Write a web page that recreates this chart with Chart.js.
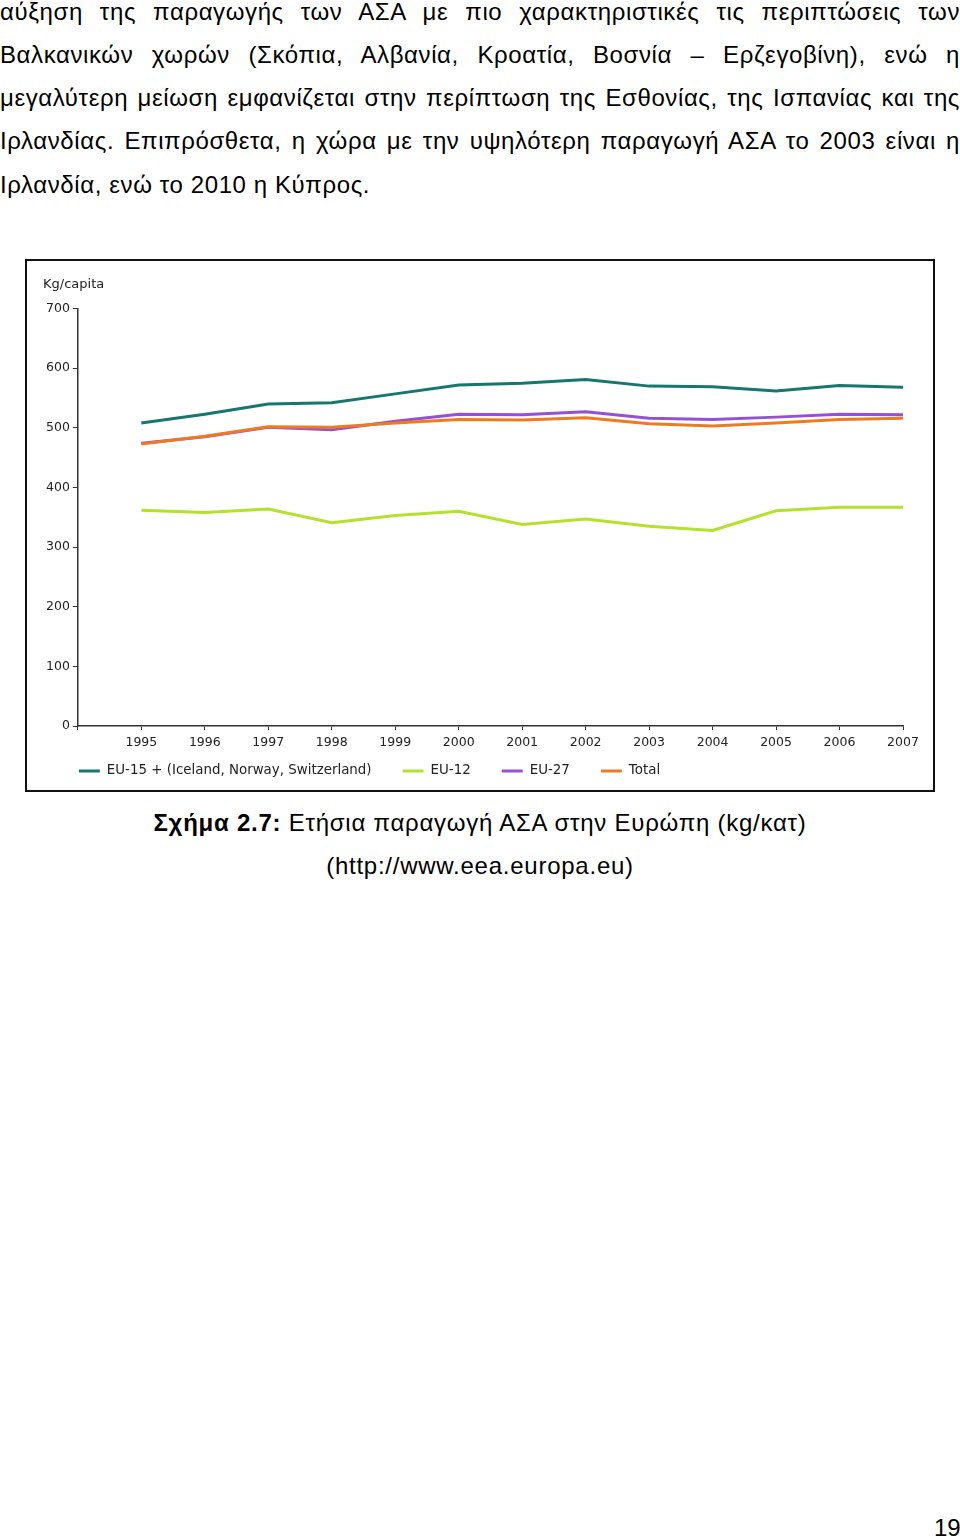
<!DOCTYPE html>
<html>
<head>
<meta charset="utf-8">
<script src="https://cdn.jsdelivr.net/npm/chart.js@4"></script>
<style>
    body { margin: 0; width: 960px; height: 1538px; background: #fff; position: relative; overflow: hidden; font-family: "Liberation Sans", Arial, sans-serif; color: #000; }
    .line { position: absolute; left: 0; width: 960px; font-size: 24px; letter-spacing: 0.6px; text-align: justify; text-align-last: justify; white-space: nowrap; line-height: 30px; }
    .line.last { text-align-last: left; }
    #box { position: absolute; left: 25px; top: 259px; width: 910px; height: 533px; box-sizing: border-box; border: 2px solid #111; }
    #box canvas { position: absolute; left: 0; top: 0; }
    .caption { position: absolute; left: 0; width: 960px; text-align: center; font-size: 24px; letter-spacing: 0.75px; line-height: 30px; }
    #page { position: absolute; left: 934px; top: 1513px; font-size: 24px; line-height: 30px; }
</style>
</head>
<body>
<div class="line" style="top:-3px">αύξηση της παραγωγής των ΑΣΑ με πιο χαρακτηριστικές τις περιπτώσεις των</div>
<div class="line" style="top:40px">Βαλκανικών χωρών (Σκόπια, Αλβανία, Κροατία, Βοσνία – Ερζεγοβίνη), ενώ η</div>
<div class="line" style="top:83px">μεγαλύτερη μείωση εμφανίζεται στην περίπτωση της Εσθονίας, της Ισπανίας και της</div>
<div class="line" style="top:126px">Ιρλανδίας. Επιπρόσθετα, η χώρα με την υψηλότερη παραγωγή ΑΣΑ το 2003 είναι η</div>
<div class="line last" style="top:170px">Ιρλανδία, ενώ το 2010 η Κύπρος.</div>

<div id="box"><canvas id="wasteChart" width="906" height="529"></canvas></div>

<div class="caption" style="top:808px"><b>Σχήμα 2.7:</b> Ετήσια παραγωγή ΑΣΑ στην Ευρώπη (kg/κατ)</div>
<div class="caption" style="top:851px">(http://www.eea.europa.eu)</div>
<div id="page">19</div>

<script>
const years = [1995, 1996, 1997, 1998, 1999, 2000, 2001, 2002, 2003, 2004, 2005, 2006, 2007];
const eu15 = [508, 523, 540, 542, 557, 572, 575, 581, 570, 569, 562, 571, 568];
const eu12 = [362, 358, 364, 341, 353, 360, 338, 347, 335, 328, 361, 367, 367];
const eu27 = [474, 485, 501, 497, 511, 523, 522, 527, 516, 514, 518, 523, 522];
const total = [473, 486, 502, 501, 508, 514, 513, 517, 507, 503, 508, 514, 516];
const seriesNames = ['EU-15 + (Iceland, Norway, Switzerland)', 'EU-12', 'EU-27', 'Total'];
const seriesColors = ['#16776f', '#b4e22c', '#9650d2', '#ee7b22'];
const yTicks = [0, 100, 200, 300, 400, 500, 600, 700];

document.addEventListener('DOMContentLoaded', function () {
    initChart();
});

function toPoints(values) {
    return years.map((yr, i) => ({ x: yr, y: values[i] }));
}

// legend drawn as a single left-aligned row of short lines under the x labels
const lineLegend = {
    id: 'lineLegend',
    afterDraw(chart) {
        const ctx = chart.ctx;
        const area = chart.chartArea;
        const y = area.bottom + 45;
        let x = area.left + 1;
        ctx.save();
        ctx.font = '13.4px "DejaVu Sans"';
        ctx.textBaseline = 'middle';
        ctx.textAlign = 'left';
        chart.data.datasets.forEach(ds => {
            ctx.strokeStyle = ds.borderColor;
            ctx.lineWidth = 3;
            ctx.beginPath();
            ctx.moveTo(x, y);
            ctx.lineTo(x + 21, y);
            ctx.stroke();
            x += 28;
            ctx.fillStyle = '#222';
            ctx.fillText(ds.label, x, y);
            x += ctx.measureText(ds.label).width + 31;
        });
        ctx.restore();
    }
};

function initChart() {
    const ctx = document.getElementById('wasteChart').getContext('2d');
    const allSeries = [eu15, eu12, eu27, total];
    const tickFont = { family: 'DejaVu Sans', size: 12.5 };

    new Chart(ctx, {
        type: 'line',
        data: {
            datasets: allSeries.map((values, i) => ({
                label: seriesNames[i],
                data: toPoints(values),
                borderColor: seriesColors[i],
                backgroundColor: seriesColors[i],
                borderWidth: 3,
                pointRadius: 0,
                tension: 0,
                fill: false,
                order: 4 - i
            }))
        },
        options: {
            responsive: false,
            animation: false,
            events: [],
            layout: {
                padding: { left: 16, right: 30, top: 16, bottom: 35 }
            },
            plugins: {
                title: {
                    display: true,
                    text: 'Kg/capita',
                    align: 'start',
                    color: '#222',
                    font: { family: 'DejaVu Sans', size: 13, weight: 'normal' },
                    padding: { top: 0, bottom: 16 }
                },
                legend: { display: false },
                tooltip: { enabled: false }
            },
            scales: {
                x: {
                    type: 'linear',
                    min: 1994,
                    max: 2007,
                    border: { display: true, color: '#333', width: 1.5 },
                    grid: { drawOnChartArea: false, drawTicks: true, tickLength: 4, color: '#333', lineWidth: 1 },
                    ticks: {
                        stepSize: 1,
                        autoSkip: false,
                        maxRotation: 0,
                        color: '#222',
                        font: tickFont,
                        padding: 5,
                        callback: function (value) {
                            return value === 1994 ? '' : String(value);
                        }
                    }
                },
                y: {
                    min: yTicks[0],
                    max: yTicks[yTicks.length - 1],
                    border: { display: true, color: '#333', width: 1.5 },
                    grid: { drawOnChartArea: false, drawTicks: true, tickLength: 5, color: '#333', lineWidth: 1 },
                    afterBuildTicks: function (scale) {
                        scale.ticks = yTicks.map(v => ({ value: v }));
                    },
                    ticks: {
                        color: '#222',
                        font: tickFont,
                        padding: 3
                    }
                }
            }
        },
        plugins: [lineLegend]
    });
}
</script>
</body>
</html>
